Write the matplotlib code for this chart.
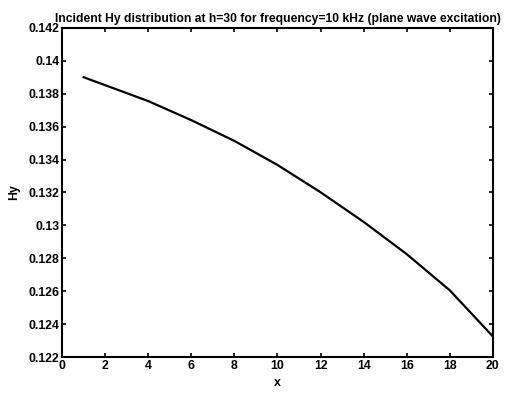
import numpy as np
import matplotlib
matplotlib.use("Agg")
import matplotlib.pyplot as plt
from matplotlib.ticker import FuncFormatter

# incident Hy along x
x = [1, 4, 6, 8, 10, 12, 14, 16, 18, 20]
hy = [0.1390, 0.13755, 0.13639, 0.13513, 0.13367, 0.13201, 0.13021, 0.12825, 0.12605, 0.12325]

xticks = [0, 2, 4, 6, 8, 10, 12, 14, 16, 18, 20]
yticks = [0.122, 0.124, 0.126, 0.128, 0.13, 0.132, 0.134, 0.136, 0.138, 0.14, 0.142]

plt.rcParams['font.family'] = ['Liberation Sans', 'DejaVu Sans']
plt.rcParams['font.weight'] = 'bold'

fig = plt.figure(figsize=(5.05, 3.98), dpi=100)
ax = fig.add_axes([0.123, 0.103, 0.853, 0.827])
ax.plot(x, hy, color='black', linewidth=1.6)

ax.set_xlim(0, 20)
ax.set_ylim(0.122, 0.142)
ax.set_xticks(xticks)
ax.set_yticks(yticks)
ax.yaxis.set_major_formatter(FuncFormatter(lambda v, p: '%g' % v))
ax.tick_params(direction='in', top=True, right=True, length=3, width=1.2,
               labelsize=8.8, pad=2)
for lbl in ax.get_xticklabels() + ax.get_yticklabels():
    lbl.set_fontweight('bold')
for s in ax.spines.values():
    s.set_linewidth(1.5)

ax.set_xlabel('x', fontsize=8.8, fontweight='bold', labelpad=4)
ax.set_ylabel('Hy', fontsize=8.8, fontweight='bold', labelpad=6)
ax.set_title('Incident Hy distribution at h=30 for frequency=10 kHz (plane wave excitation)',
             fontsize=8.7, fontweight='bold', pad=4)

fig.savefig('out.png', dpi=100)
